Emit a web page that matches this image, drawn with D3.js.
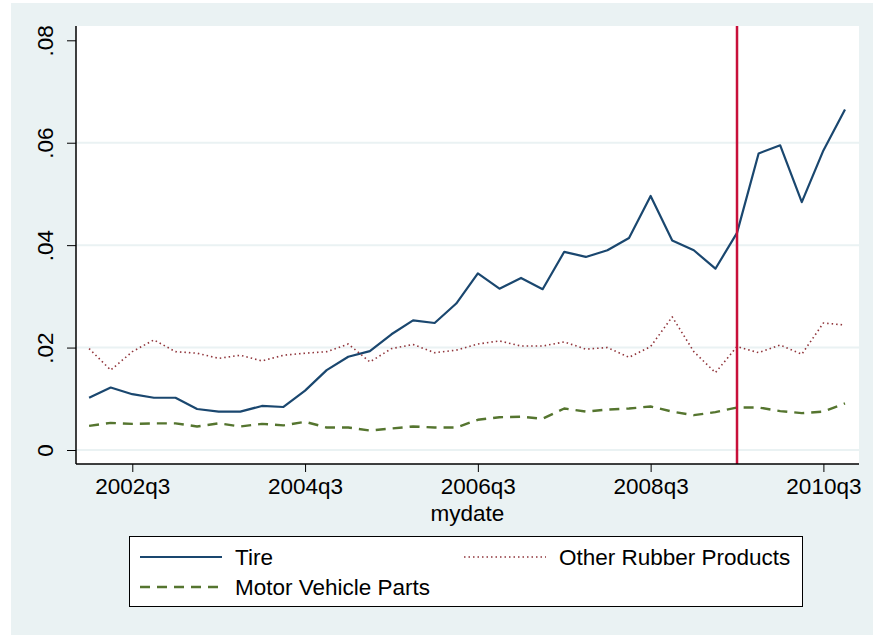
<!DOCTYPE html>
<html>
<head>
<meta charset="utf-8">
<script src="https://cdn.jsdelivr.net/npm/d3@7"></script>
<style>
  body { margin: 0; background: #ffffff; }
  text { font-family: "Liberation Sans", Arial, sans-serif; fill: #000; }
</style>
</head>
<body>
<script>
// Data -----------------------------------------------------------------------
var quarters = [
    "2002q1", "2002q2", "2002q3", "2002q4", "2003q1", "2003q2", "2003q3", "2003q4",
    "2004q1", "2004q2", "2004q3", "2004q4", "2005q1", "2005q2", "2005q3", "2005q4",
    "2006q1", "2006q2", "2006q3", "2006q4", "2007q1", "2007q2", "2007q3", "2007q4",
    "2008q1", "2008q2", "2008q3", "2008q4", "2009q1", "2009q2", "2009q3", "2009q4",
    "2010q1", "2010q2", "2010q3", "2010q4"
];
var tire = [
    0.0102, 0.0122, 0.0109, 0.0102, 0.0102, 0.0080, 0.0075, 0.0075,
    0.0086, 0.0084, 0.0116, 0.0156, 0.0182, 0.0193, 0.0226, 0.0253,
    0.0248, 0.0286, 0.0345, 0.0315, 0.0336, 0.0314, 0.0387, 0.0377,
    0.0390, 0.0414, 0.0496, 0.0409, 0.0390, 0.0354, 0.0424, 0.0579,
    0.0595, 0.0484, 0.0585, 0.0665
];
var otherRubber = [
    0.0198, 0.0156, 0.0192, 0.0215, 0.0192, 0.0189, 0.0179, 0.0185,
    0.0174, 0.0185, 0.0189, 0.0192, 0.0207, 0.0172, 0.0198, 0.0206,
    0.0190, 0.0195, 0.0207, 0.0213, 0.0203, 0.0203, 0.0211, 0.0197,
    0.0200, 0.0181, 0.0202, 0.0260, 0.0192, 0.0151, 0.0202, 0.0190,
    0.0205, 0.0187, 0.0248, 0.0244
];
var motorParts = [
    0.0047, 0.0053, 0.0051, 0.0052, 0.0052, 0.0046, 0.0052, 0.0046,
    0.0051, 0.0048, 0.0055, 0.0044, 0.0044, 0.0038, 0.0042, 0.0046,
    0.0044, 0.0044, 0.0059, 0.0064, 0.0065, 0.0061, 0.0081, 0.0075,
    0.0079, 0.0081, 0.0085, 0.0075, 0.0068, 0.0074, 0.0083, 0.0083,
    0.0076, 0.0072, 0.0075, 0.0091
];
var xTicks = ["2002q3", "2004q3", "2006q3", "2008q3", "2010q3"];
var yTicks = [0, 0.02, 0.04, 0.06, 0.08];
var yTickLabels = ["0", ".02", ".04", ".06", ".08"];
var eventQuarter = "2009q3";

var seriesNames = ["Tire", "Other Rubber Products", "Motor Vehicle Parts"];
var seriesColors = ["#1a476f", "#90353b", "#55752f"];
var seriesDash = [null, "1.5,3", "10,7"];
var seriesWidth = [2.2, 1.6, 2.4];
var seriesValues = [tire, otherRubber, motorParts];

// Layout ---------------------------------------------------------------------
var W = 874, H = 637;
var plot = { left: 76, top: 26, right: 859, bottom: 464 };
var pw = plot.right - plot.left,
    ph = plot.bottom - plot.top;
var fontSize = "22.5px";

var svg = d3.select("body").append("svg")
    .attr("width", W)
    .attr("height", H);

// outer graph region
svg.append("rect")
    .attr("x", 11).attr("y", 3)
    .attr("width", 862).attr("height", 632)
    .attr("fill", "#eaf2f3");

var g = svg.append("g")
    .attr("transform", "translate(" + plot.left + "," + plot.top + ")");

g.append("rect")
    .attr("width", pw).attr("height", ph)
    .attr("fill", "#ffffff");

// Scales ---------------------------------------------------------------------
var x = d3.scalePoint()
    .domain(quarters)
    .range([13.1, 769]);
var y = d3.scaleLinear()
    .domain([0, 0.08])
    .range([424, 14.3]);

// gridlines
g.selectAll(".grid")
    .data(yTicks.filter(function(d) { return d < 0.08; }))
    .enter().append("line")
    .attr("class", "grid")
    .attr("x1", 0).attr("x2", pw)
    .attr("y1", function(d) { return y(d); })
    .attr("y2", function(d) { return y(d); })
    .attr("stroke", "#eaf2f3")
    .attr("stroke-width", 2);

// Lines ----------------------------------------------------------------------
var line = d3.line()
    .x(function(d, i) { return x(quarters[i]); })
    .y(function(d) { return y(d); });

seriesValues.forEach(function(vals, k) {
    g.append("path")
        .datum(vals)
        .attr("fill", "none")
        .attr("stroke", seriesColors[k])
        .attr("stroke-width", seriesWidth[k])
        .attr("stroke-dasharray", seriesDash[k])
        .attr("stroke-linejoin", "round")
        .attr("d", line);
});

// event line
g.append("line")
    .attr("x1", x(eventQuarter)).attr("x2", x(eventQuarter))
    .attr("y1", 0).attr("y2", ph)
    .attr("stroke", "#c8103a")
    .attr("stroke-width", 2.5);

// Axes -----------------------------------------------------------------------
var xAxis = g.append("g")
    .attr("transform", "translate(0," + ph + ")")
    .call(d3.axisBottom(x).tickValues(xTicks).tickSize(8).tickPadding(6));
xAxis.select(".domain").attr("d", "M0,0H" + pw).attr("stroke", "#000").attr("stroke-width", 1.5);
xAxis.selectAll(".tick line").attr("stroke", "#000");
xAxis.selectAll(".tick text")
    .style("font-size", fontSize)
    .style("font-family", "'Liberation Sans', Arial, sans-serif");

var yAxis = g.append("g")
    .call(d3.axisLeft(y).tickValues(yTicks).tickSize(9)
        .tickFormat(function(d, i) { return yTickLabels[i]; }));
yAxis.select(".domain").attr("d", "M0,0V" + ph).attr("stroke", "#000").attr("stroke-width", 1.5);
yAxis.selectAll(".tick line").attr("stroke", "#000");
yAxis.selectAll(".tick text")
    .attr("x", null).attr("dy", null)
    .attr("text-anchor", "middle")
    .attr("transform", "translate(-23,0) rotate(-90)")
    .style("font-size", fontSize)
    .style("font-family", "'Liberation Sans', Arial, sans-serif");

// x axis title
svg.append("text")
    .attr("x", plot.left + pw / 2)
    .attr("y", 521)
    .attr("text-anchor", "middle")
    .style("font-size", fontSize)
    .text("mydate");

// Legend ---------------------------------------------------------------------
var legend = svg.append("g");
legend.append("rect")
    .attr("x", 129.5).attr("y", 536.5)
    .attr("width", 673).attr("height", 70)
    .attr("fill", "#ffffff")
    .attr("stroke", "#000")
    .attr("stroke-width", 1);

var legendPos = [
    { x: 140, y: 557 },
    { x: 464, y: 557 },
    { x: 140, y: 587 }
];
seriesNames.forEach(function(name, k) {
    var p = legendPos[k];
    legend.append("line")
        .attr("x1", p.x).attr("x2", p.x + 82)
        .attr("y1", p.y).attr("y2", p.y)
        .attr("stroke", seriesColors[k])
        .attr("stroke-width", seriesWidth[k])
        .attr("stroke-dasharray", seriesDash[k]);
    legend.append("text")
        .attr("x", p.x + 95)
        .attr("y", p.y + 8)
        .style("font-size", fontSize)
        .text(name);
});
</script>
</body>
</html>
